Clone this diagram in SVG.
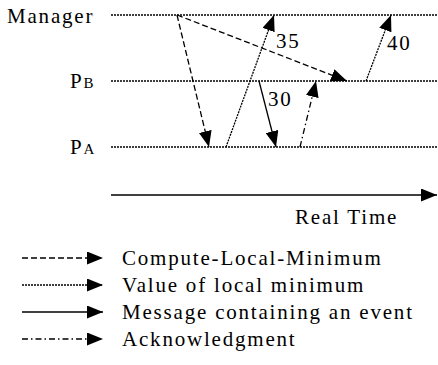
<svg xmlns="http://www.w3.org/2000/svg" width="438" height="365" viewBox="0 0 438 365">
<defs>
<marker id="ah" markerUnits="userSpaceOnUse" markerWidth="17" markerHeight="13" refX="16" refY="6.5" orient="auto">
<path d="M0,0 L16,6.5 L0,13 Z" fill="#000"/>
</marker>
</defs>
<g stroke="#000" fill="none" stroke-width="1.3">
<g id="manager"><text x="7" y="23" style="font-family:'Liberation Serif',serif !important;font-size:21px !important;letter-spacing:1.8px;fill:#000;stroke:none">Manager</text><line x1="111" y1="15" x2="438" y2="15" stroke-dasharray="2 1"/></g>
<g id="pb"><text x="70" y="88" style="font-family:'Liberation Serif',serif !important;font-size:21px !important;letter-spacing:1.8px;fill:#000;stroke:none">P<tspan style="font-size:15px !important">B</tspan></text><line x1="111" y1="81" x2="438" y2="81" stroke-dasharray="2 1"/></g>
<g id="pa"><text x="70" y="154" style="font-family:'Liberation Serif',serif !important;font-size:21px !important;letter-spacing:1.8px;fill:#000;stroke:none">P<tspan style="font-size:15px !important">A</tspan></text><line x1="111" y1="147" x2="438" y2="147" stroke-dasharray="2 1"/></g>
<g id="connectors">
<line x1="177" y1="15" x2="209" y2="147" stroke-dasharray="6 3" marker-end="url(#ah)"/>
<line x1="177" y1="15" x2="347" y2="81" stroke-dasharray="6 3" marker-end="url(#ah)"/>
<line x1="226" y1="147" x2="274" y2="15" stroke-dasharray="2 1" marker-end="url(#ah)"/>
<line x1="259" y1="81" x2="276" y2="147" marker-end="url(#ah)"/>
<line x1="300" y1="147" x2="316" y2="81" stroke-dasharray="6 3 1.5 3" marker-end="url(#ah)"/>
<line x1="366" y1="81" x2="391" y2="15" stroke-dasharray="2 1" marker-end="url(#ah)"/>
</g>
<g id="labels">
<text x="276" y="48" style="font-family:'Liberation Serif',serif !important;font-size:21px !important;letter-spacing:1.8px;fill:#000;stroke:none">35</text>
<text x="268" y="106" style="font-family:'Liberation Serif',serif !important;font-size:21px !important;letter-spacing:1.8px;fill:#000;stroke:none">30</text>
<text x="387" y="50" style="font-family:'Liberation Serif',serif !important;font-size:21px !important;letter-spacing:1.8px;fill:#000;stroke:none">40</text>
</g>
<g id="axis">
<line x1="111" y1="195" x2="437" y2="195" stroke-width="1.5" marker-end="url(#ah)"/>
<text x="295" y="224" style="font-family:'Liberation Serif',serif !important;font-size:21px !important;letter-spacing:1.8px;fill:#000;stroke:none">Real Time</text>
</g>
<g id="legend">
<line x1="22" y1="258" x2="103" y2="258" stroke-dasharray="6 3" marker-end="url(#ah)"/>
<text x="122" y="265" style="font-family:'Liberation Serif',serif !important;font-size:21px !important;letter-spacing:1.8px;fill:#000;stroke:none">Compute-Local-Minimum</text>
<line x1="22" y1="285" x2="103" y2="285" stroke-dasharray="2 1" marker-end="url(#ah)"/>
<text x="122" y="292" style="font-family:'Liberation Serif',serif !important;font-size:21px !important;letter-spacing:1.8px;fill:#000;stroke:none">Value of local minimum</text>
<line x1="22" y1="312" x2="103" y2="312" marker-end="url(#ah)"/>
<text x="122" y="319" style="font-family:'Liberation Serif',serif !important;font-size:21px !important;letter-spacing:1.8px;fill:#000;stroke:none">Message containing an event</text>
<line x1="22" y1="339" x2="103" y2="339" stroke-dasharray="6 3 1.5 3" marker-end="url(#ah)"/>
<text x="122" y="346" style="font-family:'Liberation Serif',serif !important;font-size:21px !important;letter-spacing:1.8px;fill:#000;stroke:none">Acknowledgment</text>
</g>
</g>
</svg>
